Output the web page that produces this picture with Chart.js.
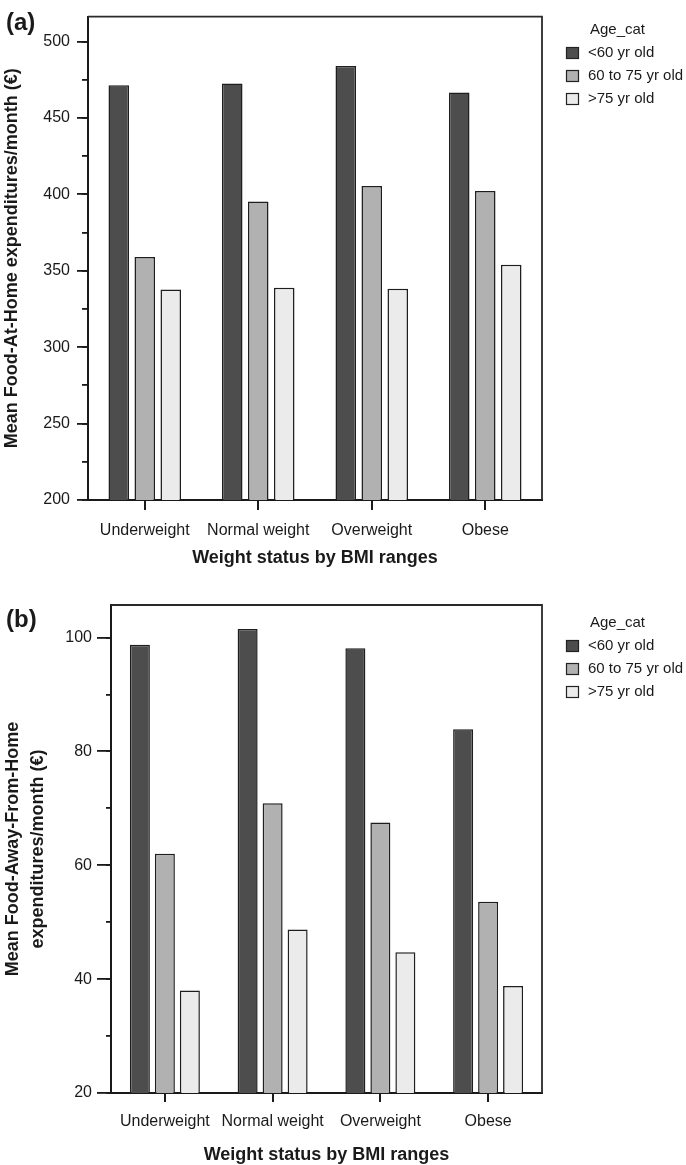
<!DOCTYPE html>
<html>
<head>
<meta charset="utf-8">
<script src="https://cdn.jsdelivr.net/npm/chart.js@4"></script>
<style>
html, body { margin: 0; padding: 0; background: #fff; }
#wrap { position: relative; width: 686px; height: 1165px; }
.panel { position: absolute; left: 0; width: 686px; }
</style>
</head>
<body>
<div id="wrap">
  <div class="panel" style="top:0;height:585px"><canvas id="chartA" width="686" height="585"></canvas></div>
  <div class="panel" style="top:585px;height:580px"><canvas id="chartB" width="686" height="580"></canvas></div>
</div>
<script>
var categories = ['Underweight', 'Normal weight', 'Overweight', 'Obese'];
var ageGroups = ['<60 yr old', '60 to 75 yr old', '>75 yr old'];
var ageColors = ['#4d4d4d', '#b1b1b1', '#ebebeb'];

// (a) food at home, euro / month
var homeUnder60 = [471.3, 472.6, 484, 466.6];
var home60to75 = [359, 395.3, 405.5, 402.2];
var homeOver75 = [337.7, 338.8, 338.3, 354];

// (b) food away from home, euro / month
var awayUnder60 = [98.7, 101.5, 98.1, 83.9];
var away60to75 = [62.0, 70.9, 67.5, 53.6];
var awayOver75 = [38.0, 48.7, 44.7, 38.8];

Chart.defaults.font.family = '"Liberation Sans", Arial, Helvetica, sans-serif';
Chart.defaults.color = '#1a1a1a';

var ink = '#1a1a1a';

// box on top/right, panel letter and the legend
function extras(cfg) {
  return {
    id: 'extras',
    afterDraw: function(chart) {
      var ctx = chart.ctx, a = chart.chartArea;
      ctx.save();
      ctx.strokeStyle = '#2a2a2a';
      ctx.lineWidth = 1.8;
      ctx.beginPath();
      ctx.moveTo(a.left, a.top);
      ctx.lineTo(a.right, a.top);
      ctx.lineTo(a.right, a.bottom);
      ctx.stroke();

      ctx.fillStyle = ink;
      ctx.textAlign = 'left';
      ctx.textBaseline = 'middle';
      ctx.font = 'bold 24px ' + Chart.defaults.font.family;
      ctx.fillText(cfg.letter, 6, cfg.letterY);

      ctx.font = '15px ' + Chart.defaults.font.family;
      ctx.fillText('Age_cat', 590, cfg.legendY);
      chart.data.datasets.forEach(function(ds, i) {
        var y = cfg.legendY + 23 * (i + 1);
        ctx.fillStyle = ds.backgroundColor;
        ctx.fillRect(566, y - 6, 13, 12);
        ctx.strokeStyle = '#222';
        ctx.lineWidth = 1.2;
        ctx.strokeRect(566.5, y - 5.5, 12, 11);
        ctx.fillStyle = ink;
        ctx.fillText(ds.label, 588, y);
      });
      ctx.restore();
    }
  };
}

function buildChart(id, s) {
  var datasets = s.series.map(function(vals, i) {
    return {
      label: ageGroups[i],
      data: vals,
      backgroundColor: ageColors[i],
      borderColor: '#1e1e1e',
      borderWidth: 1.5,
      borderSkipped: false,
      categoryPercentage: s.catPct,
      barPercentage: s.barPct
    };
  });

  return new Chart(document.getElementById(id), {
    type: 'bar',
    data: { labels: categories, datasets: datasets },
    plugins: [extras(s)],
    options: {
      responsive: false,
      animation: false,
      layout: { padding: { top: s.top, right: 144, left: 0, bottom: 0 } },
      plugins: { legend: { display: false }, tooltip: { enabled: false } },
      scales: {
        x: {
          grid: { drawOnChartArea: false, offset: false, tickLength: s.xTick, color: ink, lineWidth: 2 },
          border: { color: ink, width: 2 },
          ticks: { font: { size: 16 }, color: ink, padding: s.xPad, maxRotation: 0 },
          title: {
            display: true,
            text: 'Weight status by BMI ranges',
            font: { size: 18, weight: 'bold', lineHeight: 1 },
            color: ink,
            padding: { top: 0, bottom: s.xTitlePad }
          },
          afterFit: function(scale) { scale.height = s.xHeight; }
        },
        y: {
          weight: 1,
          min: s.min,
          max: s.max,
          ticks: { stepSize: s.major, includeBounds: false, font: { size: 16 }, color: ink, padding: s.yPad },
          grid: { drawOnChartArea: false, tickLength: s.yTick, color: ink, lineWidth: 1.8 },
          border: { color: ink, width: 2 },
          title: {
            display: true,
            text: s.yTitle,
            font: { size: 18, weight: 'bold', lineHeight: s.yTitleLH },
            color: ink,
            padding: { top: s.yTitlePad, bottom: 0 }
          },
          afterFit: function(scale) { scale.width = s.left; }
        },
        yMinor: {
          position: 'left',
          weight: 0,
          min: s.min,
          max: s.max,
          ticks: { stepSize: s.minor, includeBounds: false, display: false },
          grid: { drawOnChartArea: false, tickLength: s.yMinorTick, color: ink, lineWidth: 1.8 },
          border: { display: false },
          afterFit: function(scale) { scale.width = 0; }
        }
      }
    }
  });
}

buildChart('chartA', {
  series: [homeUnder60, home60to75, homeOver75],
  min: 200, max: 516.3, major: 50, minor: 25,
  top: 13, left: 88, xHeight: 85,
  catPct: 0.687, barPct: 0.79,
  xTick: 10, xPad: 11, xTitlePad: 18,
  yTick: 11, yMinorTick: 6, yPad: 7,
  yTitle: 'Mean Food-At-Home expenditures/month (\u20ac)', yTitleLH: 1.2, yTitlePad: 1,
  letter: '(a)', letterY: 23, legendY: 30
});

buildChart('chartB', {
  series: [awayUnder60, away60to75, awayOver75],
  min: 20, max: 105.7, major: 20, minor: 10,
  top: 20, left: 111, xHeight: 72,
  catPct: 0.696, barPct: 0.8,
  xTick: 9, xPad: 10, xTitlePad: 1,
  yTick: 14, yMinorTick: 5, yPad: 5,
  yTitle: ['Mean Food-Away-From-Home', 'expenditures/month (\u20ac)'], yTitleLH: 1.39, yTitlePad: 0.5,
  letter: '(b)', letterY: 35, legendY: 38
});
</script>
</body>
</html>
